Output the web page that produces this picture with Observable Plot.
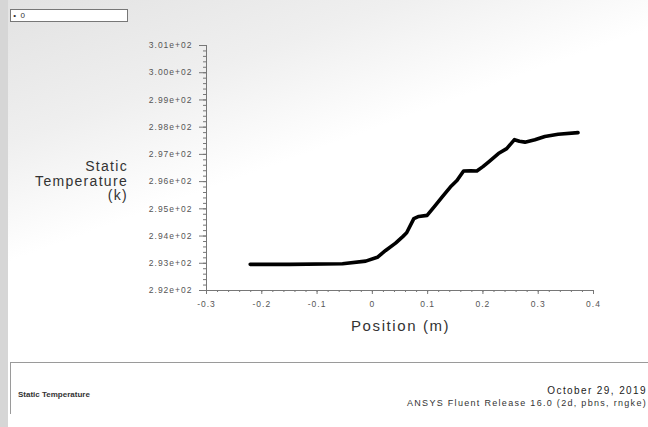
<!DOCTYPE html>
<html>
<head>
<meta charset="utf-8">
<script src="https://cdn.jsdelivr.net/npm/d3@7"></script>
<script src="https://cdn.jsdelivr.net/npm/@observablehq/plot@0.6"></script>
<style>
  html, body { margin: 0; padding: 0; }
  body { width: 648px; height: 427px; overflow: hidden; background: #ffffff; font-family: "Liberation Sans", Arial, sans-serif; }
  #wrap { position: relative; width: 648px; height: 427px; overflow: hidden;
    background: linear-gradient(160deg, #e2e2e2 0%, #efefef 22%, #ffffff 40%, #ffffff 100%); }
  #leftstrip { position: absolute; left: 0; top: 0; width: 8px; height: 427px; background: #d6d6d6; }
  #chart { position: absolute; left: 0; top: 0; }
  #chart svg g[aria-label="y-axis tick label"] text,
  #chart svg g[aria-label="x-axis tick label"] text { letter-spacing: 1px; }
  .abs { position: absolute; white-space: nowrap; color: #222; }
  #legend { left: 10px; top: 9px; width: 116px; height: 11px; border: 1px solid #777; background: #fff;
    font-size: 8px; line-height: 11px; color: #333; }
  #ylab { right: 520px; top: 159px; text-align: right; font-size: 14px; line-height: 14.5px; letter-spacing: 1.3px; color: #333; }
  #xlab { left: 351px; top: 317px; font-size: 15px; letter-spacing: 1.6px; color: #333; }
  #hline { left: 10px; top: 362px; width: 638px; height: 0; border-top: 1px solid #9a9a9a; }
  #vline { left: 10px; top: 362px; width: 0; height: 52px; border-left: 1px solid #9a9a9a; }
  #ftitle { left: 18px; top: 390px; font-size: 8px; font-weight: bold; color: #333; }
  #fdate { right: 1px; top: 385px; font-size: 10px; letter-spacing: 1.4px; color: #222; text-align: right; }
  #frel { right: 1px; top: 398px; font-size: 9px; letter-spacing: 1.3px; color: #333; text-align: right; }
</style>
</head>
<body>
<div id="wrap">
  <div id="leftstrip"></div>
  <div id="chart"></div>
  <div class="abs" id="legend">&nbsp;•&nbsp;&nbsp;0</div>
  <div class="abs" id="ylab">Static<br>Temperature<br>(k)</div>
  <div class="abs" id="xlab">Position (m)</div>
  <div class="abs" id="hline"></div>
  <div class="abs" id="vline"></div>
  <div class="abs" id="ftitle">Static Temperature</div>
  <div class="abs" id="fdate">October 29, 2019</div>
  <div class="abs" id="frel">ANSYS Fluent Release 16.0 (2d, pbns, rngke)</div>
</div>
<script>
// Data (position in m, static temperature in K)
const position = [-0.221, -0.15, -0.054, -0.012, 0.009, 0.024, 0.042, 0.055, 0.062, 0.075, 0.084, 0.099, 0.114, 0.126, 0.141, 0.153, 0.165, 0.178, 0.189, 0.200, 0.210, 0.228, 0.243, 0.257, 0.266, 0.276, 0.294, 0.312, 0.336, 0.372];
const temperature = [292.96, 292.96, 292.98, 293.08, 293.22, 293.47, 293.74, 293.98, 294.12, 294.64, 294.72, 294.76, 295.13, 295.43, 295.80, 296.04, 296.39, 296.40, 296.39, 296.55, 296.72, 297.03, 297.21, 297.54, 297.48, 297.45, 297.54, 297.66, 297.74, 297.80];
const yTicks = [292, 293, 294, 295, 296, 297, 298, 299, 300, 301];
const xTicks = [-0.3, -0.2, -0.1, 0, 0.1, 0.2, 0.3, 0.4];
const yMinor = d3.range(292, 301.001, 0.2);
const xMinor = d3.range(-0.3, 0.4001, 0.02);

const data = position.map((x, i) => ({x, y: temperature[i]}));
const fmtY = d => (d / 100).toFixed(2) + "e+02";
const fmtX = d => (Math.abs(d) < 1e-9 ? "0" : String(+d.toFixed(1)));
const blank = () => "";

const chart = Plot.plot({
  width: 648,
  height: 427,
  marginLeft: 206,
  marginRight: 55,
  marginTop: 45,
  marginBottom: 137,
  style: {background: "transparent", fontFamily: "Liberation Sans, Arial, sans-serif"},
  x: {domain: [-0.3, 0.4]},
  y: {domain: [292, 301]},
  marks: [
    Plot.axisY(yMinor, {tickSize: 3, tickFormat: blank, stroke: "#777", label: null}),
    Plot.axisY(yTicks, {tickSize: 7, tickPadding: 7, tickFormat: fmtY, fontSize: 8.5, fill: "#555", stroke: "#777", label: null}),
    Plot.axisX(xMinor, {tickSize: 2, tickFormat: blank, stroke: "#777", label: null}),
    Plot.axisX(xTicks, {tickSize: 4, tickPadding: 6, tickFormat: fmtX, fontSize: 8.5, fill: "#555", stroke: "#777", label: null}),
    Plot.ruleX([-0.3], {stroke: "#777"}),
    Plot.ruleY([292], {stroke: "#777"}),
    Plot.line(data, {x: "x", y: "y", stroke: "#000", strokeWidth: 3.6, strokeLinejoin: "round", strokeLinecap: "round"})
  ]
});
document.getElementById("chart").appendChild(chart);
</script>
</body>
</html>
